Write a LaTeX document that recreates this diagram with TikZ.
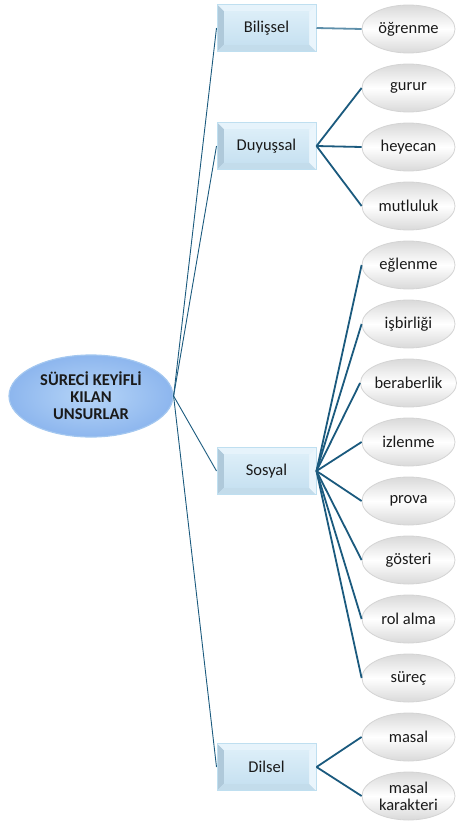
\documentclass[tikz,border=0pt]{standalone}
\usepackage{fontspec}
\setmainfont{Carlito}
\usetikzlibrary{shapes.geometric}
\definecolor{conn}{HTML}{1B5A7E}
\definecolor{connlight}{HTML}{5E8FAA}
\definecolor{rootin}{HTML}{B6D5F7}
\definecolor{rootout}{HTML}{8DB6EE}
\definecolor{rootedge}{HTML}{A3C7F0}
\definecolor{catedge}{HTML}{BFDFF0}
\definecolor{cattop}{HTML}{DCEEF8}
\definecolor{catbot}{HTML}{C7E1F1}
\definecolor{bvtop}{HTML}{E6F3FB}
\definecolor{bvleft}{HTML}{AFC9DA}
\definecolor{bvbottom}{HTML}{C3DCEB}
\definecolor{bvright}{HTML}{EAF5FC}
\definecolor{leafgray}{HTML}{D9D9D9}
\definecolor{leafedge}{HTML}{D4D4D4}
\definecolor{txtc}{HTML}{1A1A1A}
\begin{document}
\begin{tikzpicture}[x=1pt,y=-1pt,
  every node/.style={text=txtc},
  root/.style={ellipse, minimum width=164pt, minimum height=82pt, inner sep=0pt,
    draw=rootedge, line width=1.2pt, inner color=rootin, outer color=rootout,
    align=center, font=\bfseries\fontsize{16.5}{17}\selectfont},
  catbox/.style={rectangle, minimum width=99pt, minimum height=47pt, inner sep=0pt,
    draw=catedge, line width=1pt, fill=catbot, font=\fontsize{16.5}{18}\selectfont,
    path picture={
      \coordinate (pA) at (path picture bounding box.north west);
      \coordinate (pB) at (path picture bounding box.north east);
      \coordinate (pC) at (path picture bounding box.south east);
      \coordinate (pD) at (path picture bounding box.south west);
      \coordinate (qA) at ([shift={(7pt,-7pt)}]pA);
      \coordinate (qB) at ([shift={(-7pt,-7pt)}]pB);
      \coordinate (qC) at ([shift={(-7pt,7pt)}]pC);
      \coordinate (qD) at ([shift={(7pt,7pt)}]pD);
      \fill[bvtop] (pA) -- (pB) -- (qB) -- (qA) -- cycle;
      \fill[bvleft] (pA) -- (qA) -- (qD) -- (pD) -- cycle;
      \fill[bvbottom] (pD) -- (qD) -- (qC) -- (pC) -- cycle;
      \fill[bvright] (pB) -- (pC) -- (qC) -- (qB) -- cycle;
      \shade[top color=cattop, bottom color=catbot] (qA) rectangle (qC);
    }},
  leaf/.style={ellipse, minimum width=93pt, minimum height=48pt, inner sep=0pt,
    draw=leafedge, line width=0.8pt, top color=leafgray, bottom color=leafgray,
    middle color=white, align=center, font=\fontsize{16.5}{18}\selectfont},
  trunk/.style={draw=conn, line width=0.9pt},
  branch/.style={draw=conn, line width=1.8pt}
]
\useasboundingbox (0,0) rectangle (457,822);

\node[root] (r) at (91,396) {SÜRECİ KEYİFLİ\\KILAN\\UNSURLAR};

\node[catbox] (c1) at (266.5,28) {Bilişsel};
\node[catbox] (c2) at (266.5,146) {Duyuşsal};
\node[catbox] (c3) at (266.5,471) {Sosyal};
\node[catbox] (c4) at (266.5,767) {Dilsel};

\node[leaf] (l1) at (408.5,29) {öğrenme};
\node[leaf] (l2) at (408.5,88) {gurur};
\node[leaf] (l3) at (408.5,147) {heyecan};
\node[leaf] (l4) at (408.5,206) {mutluluk};
\node[leaf] (l5) at (408.5,265) {eğlenme};
\node[leaf] (l6) at (408.5,324) {işbirliği};
\node[leaf] (l7) at (408.5,383) {beraberlik};
\node[leaf] (l8) at (408.5,442) {izlenme};
\node[leaf] (l9) at (408.5,501) {prova};
\node[leaf] (l10) at (408.5,560) {gösteri};
\node[leaf] (l11) at (408.5,619) {rol alma};
\node[leaf] (l12) at (408.5,678) {süreç};
\node[leaf] (l13) at (408.5,737) {masal};
\node[leaf] (l14) at (408.5,796) {masal\\[-1pt]karakteri};

\foreach \c in {c1,c2,c3,c4} \draw[trunk] (r.east) -- (\c.west);
\draw[branch, draw=connlight] (c1.east) -- (l1.west);
\foreach \l in {l2,l3,l4} \draw[branch] (c2.east) -- (\l.west);
\foreach \l in {l5,l6,l7,l8,l9,l10,l11,l12} \draw[branch] (c3.east) -- (\l.west);
\foreach \l in {l13,l14} \draw[branch] (c4.east) -- (\l.west);
\end{tikzpicture}
\end{document}
